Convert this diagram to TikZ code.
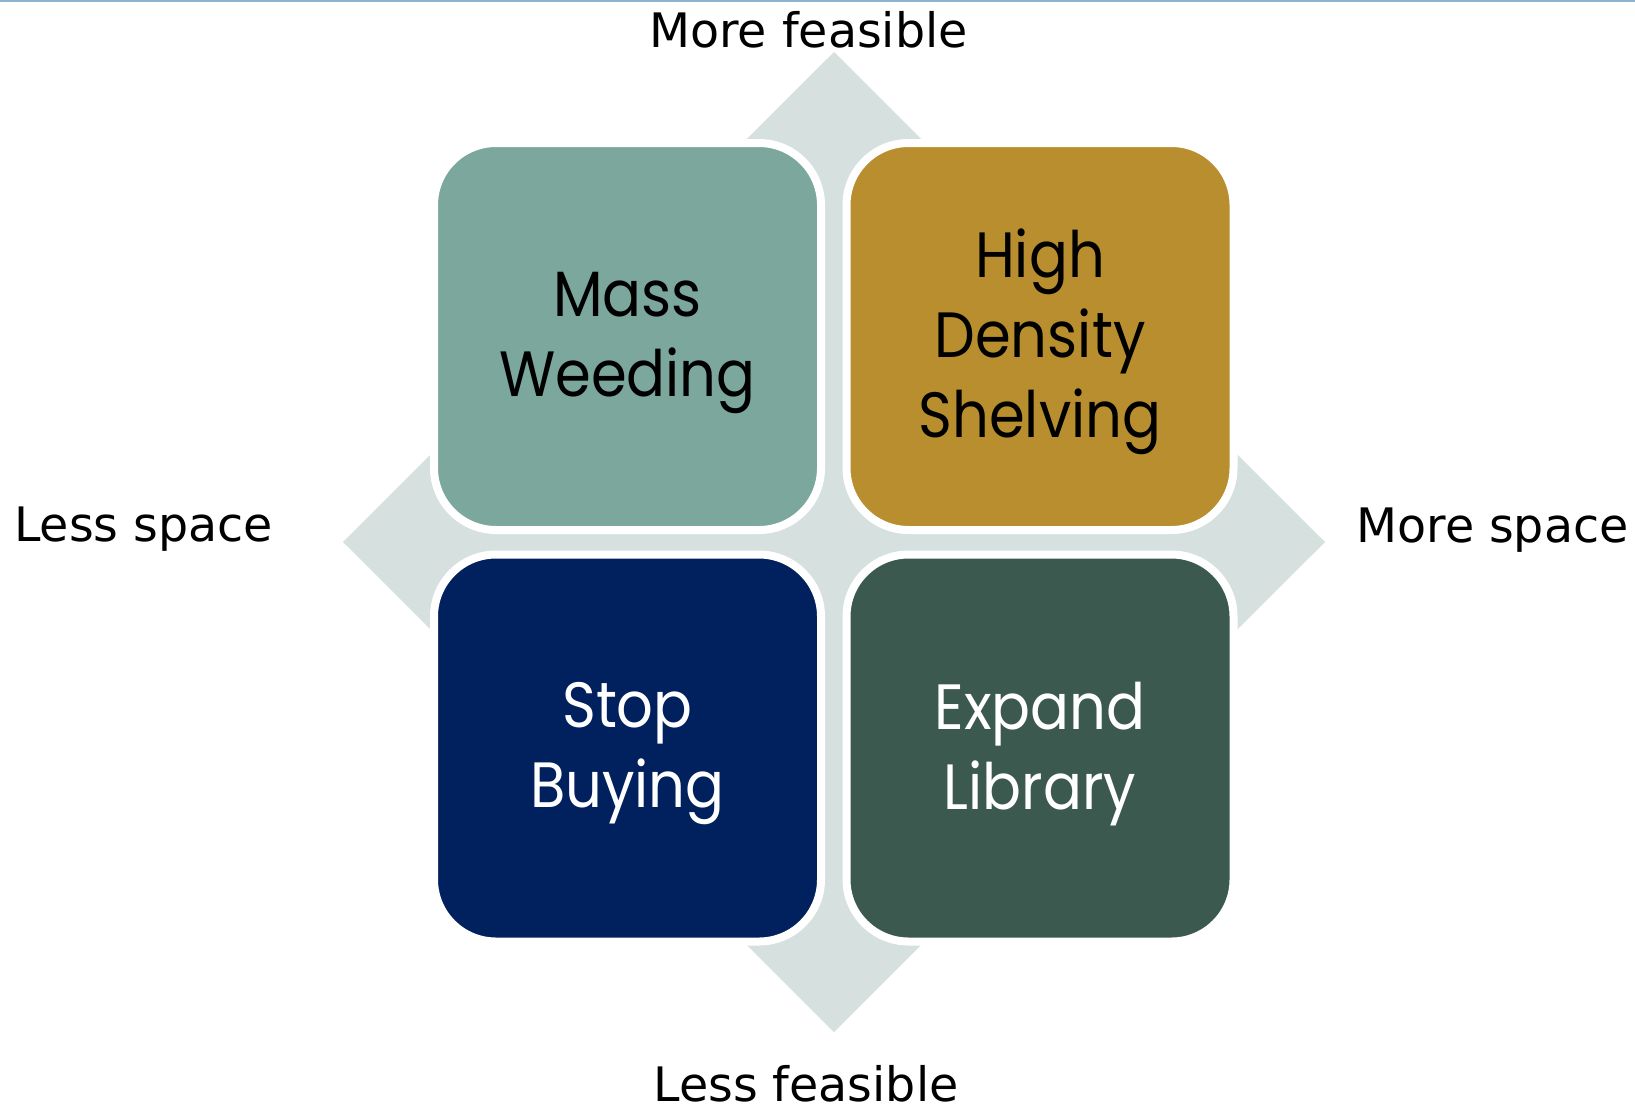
\documentclass[tikz,border=0pt]{standalone}
\usepackage{fontspec}
\setmainfont{DejaVu Sans}
\newfontfamily\boxfont{Poppins}[FakeStretch=0.9]
\definecolor{topline}{HTML}{8DB3D1}
\definecolor{diamondgray}{HTML}{D6E0DF}
\definecolor{mwfill}{HTML}{7BA79D}
\definecolor{hdfill}{HTML}{B98E2E}
\definecolor{sbfill}{HTML}{01205E}
\definecolor{elfill}{HTML}{3C5950}
\begin{document}
\begin{tikzpicture}[x=1bp,y=-1bp,
  quad/.style={rounded corners=62bp, minimum width=387bp, minimum height=387bp,
    draw=white, line width=8bp, inner sep=0pt},
  quadtext/.style={inner sep=0pt, align=center,
    font=\boxfont\fontsize{64bp}{80bp}\selectfont},
  axislabel/.style={font=\fontsize{47.5bp}{52bp}\selectfont, inner sep=0pt, text=black}]
\useasboundingbox (0,0) rectangle (1635,1108);
\fill[white] (0,0) rectangle (1635,1108);
\fill[topline] (0,0) rectangle (1635,2);
\fill[diamondgray] (834,52) -- (1325,542) -- (834,1032) -- (343,542) -- cycle;
\node[quad, fill=mwfill] (mw) at (627.5,336.5) {};
\node[quad, fill=hdfill] (hd) at (1040,336.5) {};
\node[quad, fill=sbfill] (sb) at (627.5,748) {};
\node[quad, fill=elfill] (el) at (1040,748) {};
\node[quadtext, text=black] (mwt) at ([yshift=-6bp]mw.center) {Mass\\Weeding};
\node[quadtext, text=black] (hdt) at ([yshift=-5bp]hd.center) {High\\Density\\Shelving};
\node[quadtext, text=white] (sbt) at ([yshift=-6bp]sb.center) {Stop\\Buying};
\node[quadtext, text=white] (elt) at ([yshift=-6bp]el.center) {Expand\\Library};
\node[axislabel, anchor=base] (mf) at (808.5,47) {More feasible};
\node[axislabel, anchor=base] (lf) at (806,1101) {Less feasible};
\node[axislabel, anchor=base west] (ls) at (14,541) {Less space};
\node[axislabel, anchor=base] (ms) at (1492.5,542) {More space};
\end{tikzpicture}
\end{document}
